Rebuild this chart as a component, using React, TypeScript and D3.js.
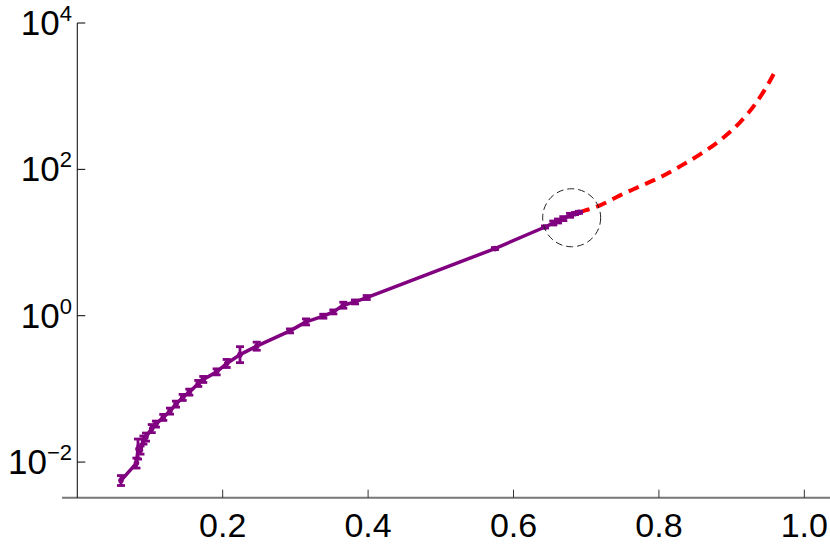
import React from "react";
import * as d3 from "d3";

// Measured series (x, y) with error half-widths in decades
const dataX = [
  0.0601, 0.0814, 0.0835, 0.0869, 0.091, 0.0945, 0.1024, 0.1082, 0.1183, 0.1275,
  0.1358, 0.145, 0.1541, 0.1664, 0.1733, 0.1917, 0.2055, 0.2238, 0.2468, 0.2926,
  0.3146, 0.3384, 0.3522, 0.3659, 0.382, 0.3981, 0.5745, 0.6433, 0.6547, 0.6612,
  0.6685, 0.6777, 0.6846, 0.6901,
];
const dataY = [
  0.00559, 0.00969, 0.01505, 0.01458, 0.01997, 0.02195, 0.02867, 0.03303, 0.04075, 0.04968,
  0.06189, 0.07643, 0.09028, 0.1187, 0.1346, 0.1709, 0.2225, 0.2935, 0.3834, 0.6202,
  0.823, 0.9845, 1.127, 1.391, 1.543, 1.772, 8.268, 16.31, 18.49, 19.69,
  21.23, 23.55, 24.85, 25.88,
];
const dataErr = [
  0.068, 0.068, 0.137, 0.055, 0.055, 0.055, 0.055, 0.041, 0.041, 0.041,
  0.041, 0.041, 0.041, 0.041, 0.041, 0.041, 0.055, 0.109, 0.055, 0.027,
  0.041, 0.027, 0.027, 0.041, 0.027, 0.027, 0.014, 0.014, 0.027, 0.027,
  0.027, 0.027, 0.014, 0.014,
];

// Extrapolation (red dashed)
const extX = [0.6901, 0.719, 0.7465, 0.774, 0.8015, 0.829, 0.8565, 0.884, 0.9115, 0.9321, 0.9459, 0.961];
const extY = [25.88, 32.25, 44.17, 58.62, 77.77, 109.9, 160.2, 248.9, 438.2, 771.7, 1237, 2304];

// Highlight circle centre
const circleX = [0.68];
const circleY = [21.8];

const xTicks = [0.2, 0.4, 0.6, 0.8, 1.0];
const xTickLabels = ["0.2", "0.4", "0.6", "0.8", "1.0"];
const yTickExps = [-2, 0, 2, 4];

const W = 830;
const H = 554;

export default function App() {
  const x = d3.scaleLinear().domain([-0.021, 1.0353]).range([62, 830]);
  const y = d3.scaleLog().domain([Math.pow(10, -2.487), 1e4]).range([497.7, 23]);

  const pts = dataX.map((v, i) => ({ x: v, y: dataY[i], e: dataErr[i] }));
  const ext = extX.map((v, i) => [v, extY[i]] as [number, number]);

  const line = d3
    .line<{ x: number; y: number }>()
    .x((d) => x(d.x))
    .y((d) => y(d.y));
  const extLine = d3
    .line<[number, number]>()
    .x((d) => x(d[0]))
    .y((d) => y(d[1]))
    .curve(d3.curveMonotoneX);

  const purple = "#800080";
  const x0 = x(0);
  const yBottom = y.range()[0];
  const yTop = y.range()[1];
  const font = "'Liberation Sans', Arial, Helvetica, sans-serif";

  return (
    <svg
      width={W}
      height={H}
      style={{ position: "absolute", left: 0, top: 0, background: "#fff" }}
      fontFamily={font}
    >
      {/* x axis */}
      <line x1={62} x2={830} y1={yBottom} y2={yBottom} stroke="#777" strokeWidth={2} />
      {xTicks.map((t, i) => (
        <g key={t}>
          <line x1={x(t)} x2={x(t)} y1={yBottom} y2={yBottom - 8} stroke="#333" strokeWidth={1} />
          <text x={x(t)} y={537} textAnchor="middle" fontSize={34} fill="#000">
            {xTickLabels[i]}
          </text>
        </g>
      ))}
      {/* y axis */}
      <line x1={x0} x2={x0} y1={yBottom} y2={yTop} stroke="#000" strokeWidth={1} />
      {yTickExps.map((e) => {
        const yy = y(Math.pow(10, e));
        return (
          <g key={e}>
            <line x1={x0} x2={x0 + 8} y1={yy} y2={yy} stroke="#000" strokeWidth={1} />
            <text x={72} y={yy + 12} textAnchor="end" fontSize={35} fill="#000">
              10
              <tspan dy={-14} fontSize={22}>
                {e < 0 ? "\u2212" + Math.abs(e) : String(e)}
              </tspan>
            </text>
          </g>
        );
      })}

      {/* red dashed extrapolation */}
      <path d={extLine(ext) || ""} fill="none" stroke="#ff0000" strokeWidth={4} strokeDasharray="11,7" />

      {/* purple data line */}
      <path d={line(pts) || ""} fill="none" stroke={purple} strokeWidth={3.5} strokeLinejoin="round" />
      {pts.map((p, i) => {
        const cx = x(p.x);
        const lo = y(p.y * Math.pow(10, -p.e));
        const hi = y(p.y * Math.pow(10, p.e));
        return (
          <g key={i}>
            <line x1={cx} x2={cx} y1={lo} y2={hi} stroke={purple} strokeWidth={2.8} />
            <line x1={cx - 4} x2={cx + 4} y1={lo} y2={lo} stroke={purple} strokeWidth={2.8} />
            <line x1={cx - 4} x2={cx + 4} y1={hi} y2={hi} stroke={purple} strokeWidth={2.8} />
            <circle cx={cx} cy={y(p.y)} r={2.8} fill={purple} />
          </g>
        );
      })}

      {/* highlight circle */}
      {circleX.map((cxv, i) => (
        <circle
          key={i}
          cx={x(cxv)}
          cy={y(circleY[i])}
          r={29}
          fill="none"
          stroke="#222"
          strokeWidth={1}
          strokeDasharray="7,4"
        />
      ))}
    </svg>
  );
}
